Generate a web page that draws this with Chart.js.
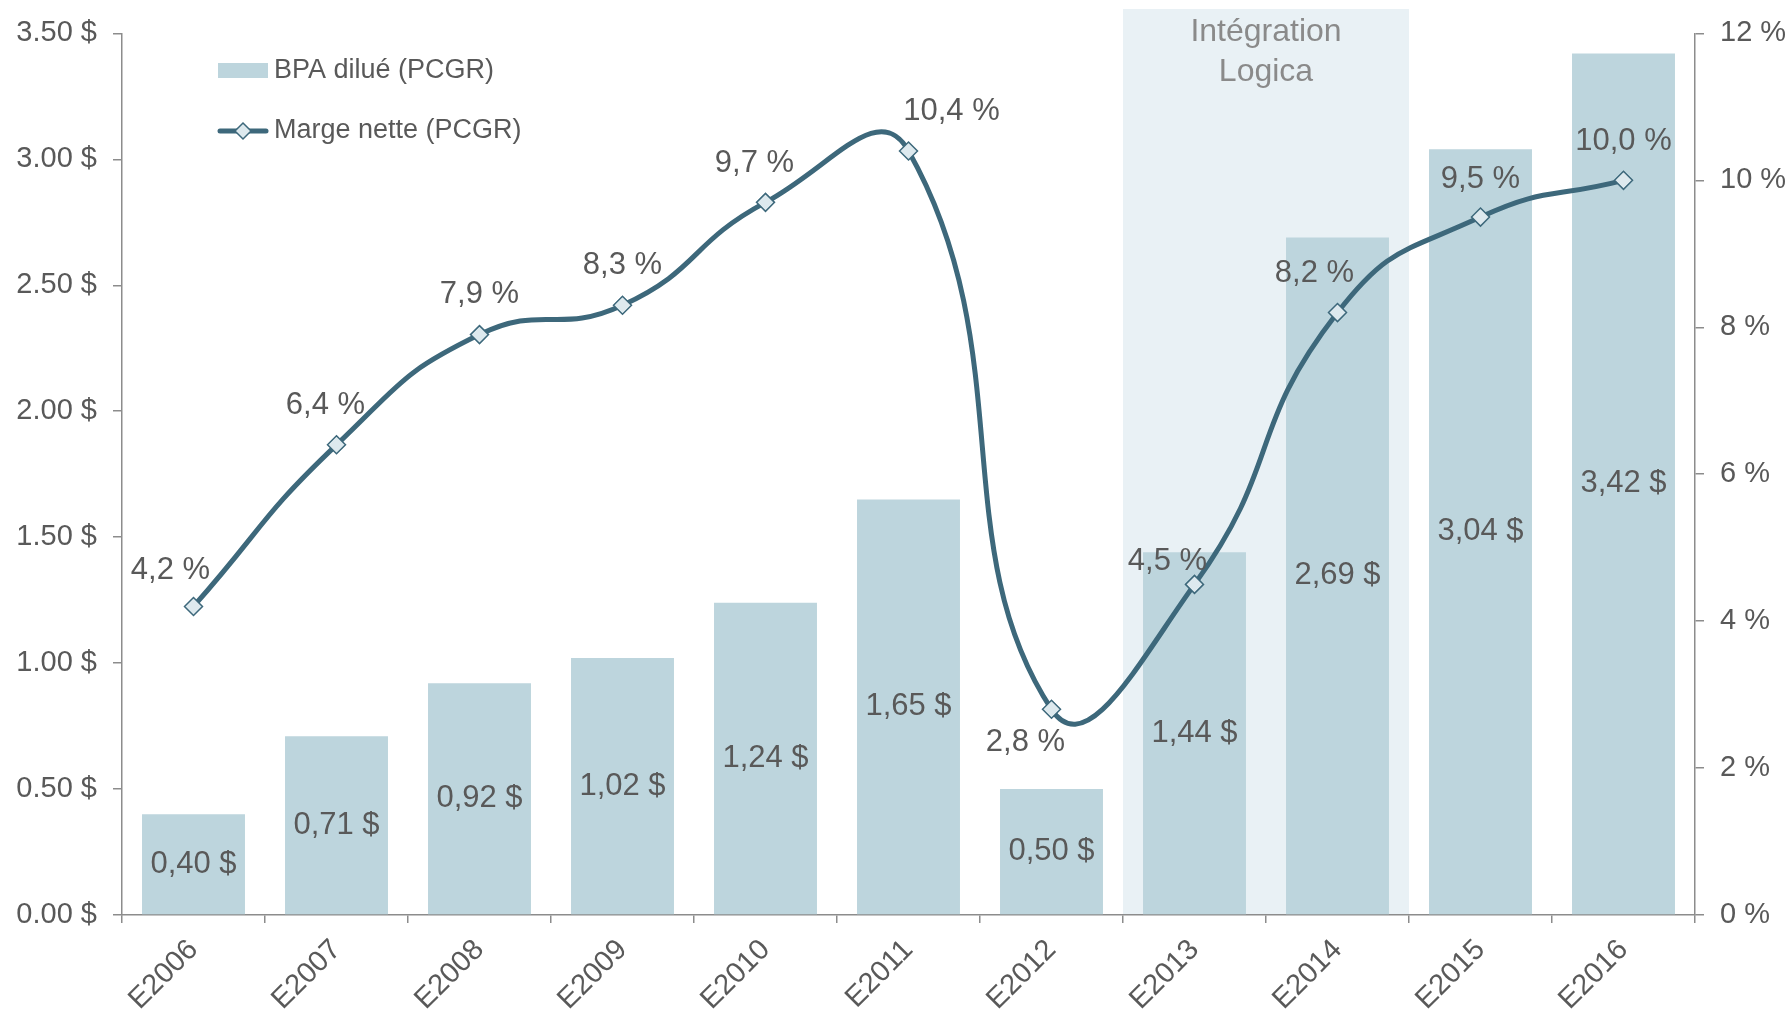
<!DOCTYPE html>
<html>
<head>
<meta charset="utf-8">
<script src="https://cdn.jsdelivr.net/npm/chart.js@4.4.0/dist/chart.umd.min.js"></script>
<style>
  html, body { margin: 0; padding: 0; background: #fff; }
</style>
</head>
<body>
<canvas id="bpaChart" width="1787" height="1010"></canvas>
<script>
// DATA
const categories = ['E2006', 'E2007', 'E2008', 'E2009', 'E2010', 'E2011', 'E2012', 'E2013', 'E2014', 'E2015', 'E2016'];
const bpaValues = [0.40, 0.71, 0.92, 1.02, 1.24, 1.65, 0.50, 1.44, 2.69, 3.04, 3.42];
const margeValues = [4.2, 6.4, 7.9, 8.3, 9.7, 10.4, 2.8, 4.5, 8.2, 9.5, 10.0];
const leftTicks = [0, 0.5, 1, 1.5, 2, 2.5, 3, 3.5];
const rightTicks = [0, 2, 4, 6, 8, 10, 12];
const integrationYears = ['E2013', 'E2014'];
const integrationLabel = ['Intégration', 'Logica'];
const seriesNames = ['BPA dilué (PCGR)', 'Marge nette (PCGR)'];

// where each margin label sits relative to its point (px)
const margeLabelOffsets = [[-23, -36], [-11, -39], [0, -40], [0, -40], [-11, -39], [43, -39],
                           [-26, 33], [-27, -23], [-23, -39], [0, -38], [0, -39]];

const barColor = '#bdd5dd';
const lineColor = '#3d687b';
const markerFill = '#dde9ee';
const shadeColor = '#e9f1f5';
const textColor = '#595959';
const axisColor = '#8c8c8c';
const fontFamily = '"Liberation Sans", Arial, sans-serif';

const fmtComma = (v, d) => v.toFixed(d).replace('.', ',');

// shaded "Intégration Logica" band behind everything
const integrationBand = {
  id: 'integrationBand',
  beforeDraw(chart) {
    const x = chart.scales.x;
    const area = chart.chartArea;
    const half = (x.getPixelForValue(1) - x.getPixelForValue(0)) / 2;
    const i0 = categories.indexOf(integrationYears[0]);
    const i1 = categories.indexOf(integrationYears[integrationYears.length - 1]);
    const left = x.getPixelForValue(i0) - half;
    const right = x.getPixelForValue(i1) + half;
    const c = chart.ctx;
    c.save();
    c.fillStyle = shadeColor;
    c.fillRect(left, 9, right - left, area.bottom - 9 - 1);
    c.fillStyle = '#8a8a8a';
    c.font = '32px ' + fontFamily;
    c.textAlign = 'center';
    c.textBaseline = 'middle';
    integrationLabel.forEach((t, k) => c.fillText(t, (left + right) / 2, 32 + k * 40));
    c.restore();
  }
};

// value labels + legend
const labelsAndLegend = {
  id: 'labelsAndLegend',
  afterDatasetsDraw(chart) {
    const c = chart.ctx;
    c.save();
    c.fillStyle = textColor;
    c.font = '31px ' + fontFamily;
    c.textAlign = 'center';
    c.textBaseline = 'middle';

    chart.getDatasetMeta(0).data.forEach((bar, i) => {
      c.fillText(fmtComma(bpaValues[i], 2) + ' $', bar.x, (bar.y + bar.base) / 2);
    });
    chart.getDatasetMeta(1).data.forEach((pt, i) => {
      const [dx, dy] = margeLabelOffsets[i];
      c.fillText(fmtComma(margeValues[i], 1) + ' %', pt.x + dx, pt.y + dy);
    });

    // legend (inside plot, top left)
    c.font = '27px ' + fontFamily;
    c.textAlign = 'left';
    c.fillStyle = barColor;
    c.fillRect(218, 63, 50, 15);
    c.fillStyle = textColor;
    c.fillText(seriesNames[0], 274, 71);

    c.strokeStyle = lineColor;
    c.lineWidth = 5;
    c.lineCap = 'round';
    c.beginPath();
    c.moveTo(220, 131);
    c.lineTo(266, 131);
    c.stroke();
    c.fillStyle = markerFill;
    c.lineWidth = 1.5;
    c.beginPath();
    c.moveTo(243, 123); c.lineTo(251, 131); c.lineTo(243, 139); c.lineTo(235, 131);
    c.closePath();
    c.fill();
    c.stroke();
    c.fillStyle = textColor;
    c.fillText(seriesNames[1], 274, 131);
    c.restore();
  }
};

const ctx = document.getElementById('bpaChart').getContext('2d');
const chart = new Chart(ctx, {
  data: {
    labels: categories,
    datasets: [
      {
        type: 'bar',
        label: seriesNames[0],
        data: bpaValues,
        yAxisID: 'y',
        backgroundColor: barColor,
        borderWidth: 0,
        barPercentage: 0.72,
        categoryPercentage: 1.0,
        order: 2,
      },
      {
        type: 'line',
        label: seriesNames[1],
        data: margeValues,
        yAxisID: 'y1',
        borderColor: lineColor,
        borderWidth: 5,
        tension: 0.5,
        pointStyle: 'rectRot',
        pointRadius: 9,
        pointBackgroundColor: markerFill,
        pointBorderColor: lineColor,
        pointBorderWidth: 1.5,
        order: 1,
      },
    ],
  },
  options: {
    responsive: false,
    animation: false,
    layout: { padding: { top: 30, left: 0, right: 0, bottom: 0 } },
    plugins: {
      legend: { display: false },
      tooltip: { enabled: false },
    },
    scales: {
      x: {
        offset: true,
        grid: { display: true, drawOnChartArea: false, offset: true, tickLength: 8, color: axisColor, lineWidth: 1.5 },
        border: { color: axisColor, width: 1.5 },
        ticks: {
          minRotation: 45, maxRotation: 45, padding: 10,
          color: textColor, font: { family: fontFamily, size: 29 },
        },
        afterFit: s => { s.height = 95; },
      },
      y: {
        position: 'left',
        min: 0, max: 3.5,
        afterBuildTicks: s => { s.ticks = leftTicks.map(v => ({ value: v })); },
        grid: { drawOnChartArea: false, tickLength: 9, color: axisColor, lineWidth: 1.5 },
        border: { color: axisColor, width: 1.5 },
        ticks: {
          padding: 16, color: textColor, font: { family: fontFamily, size: 29 },
          callback: v => v.toFixed(2) + ' $',
        },
        afterFit: s => { s.width = 122; },
      },
      y1: {
        position: 'right',
        min: 0, max: 12,
        afterBuildTicks: s => { s.ticks = rightTicks.map(v => ({ value: v })); },
        grid: { drawOnChartArea: false, tickLength: 9, color: axisColor, lineWidth: 1.5 },
        border: { color: axisColor, width: 1.5 },
        ticks: {
          padding: 16, color: textColor, font: { family: fontFamily, size: 29 },
          callback: v => v + ' %',
        },
        afterFit: s => { s.width = 92; },
      },
    },
  },
  plugins: [integrationBand, labelsAndLegend],
});
</script>
</body>
</html>
